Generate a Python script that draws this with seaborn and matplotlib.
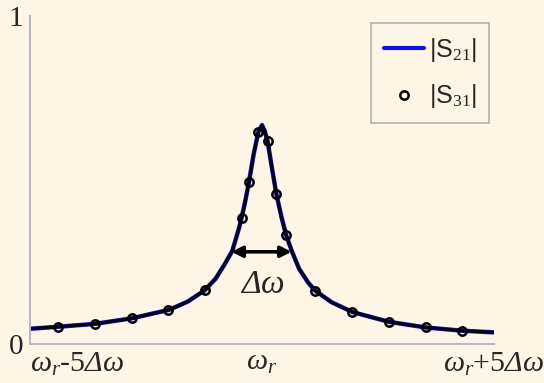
import matplotlib
matplotlib.use("Agg")
import matplotlib.pyplot as plt
from matplotlib.lines import Line2D
import seaborn as sns
import pandas as pd

# curve |S21| (x in units of delta-omega from omega_r)
line_x = [-5.0, -4.4, -3.6, -2.8, -2.0, -1.6, -1.23, -1.0, -0.8, -0.64, -0.5, -0.44,
          -0.36, -0.28, -0.18, -0.08, 0.0, 0.06, 0.12, 0.2, 0.31, 0.42, 0.52, 0.64,
          0.8, 1.0, 1.15, 1.5, 1.95, 2.74, 3.53, 4.32, 5.0]
line_y = [0.045, 0.051, 0.060, 0.077, 0.103, 0.128, 0.163, 0.198, 0.243, 0.283, 0.350, 0.384,
          0.435, 0.494, 0.578, 0.645, 0.667, 0.648, 0.618, 0.548, 0.456, 0.386, 0.331, 0.283,
          0.228, 0.185, 0.161, 0.126, 0.096, 0.066, 0.049, 0.039, 0.034]

# markers |S31|
pts_x = [-4.39, -3.60, -2.81, -2.02, -1.23, -0.44, -0.28, -0.08, 0.12, 0.31, 0.52,
         1.15, 1.95, 2.74, 3.53, 4.32]
pts_y = [0.051, 0.060, 0.077, 0.103, 0.163, 0.384, 0.494, 0.645, 0.618, 0.456, 0.331,
         0.161, 0.096, 0.066, 0.049, 0.039]

xtick_pos = [-5, 0, 5]
xtick_labels = [r"$\omega_r$-5$\mathsf{\Delta}\omega$", r"$\omega_r$",
                r"$\omega_r$+5$\mathsf{\Delta}\omega$"]
ytick_pos = [0, 0.2, 0.4, 0.6, 0.8, 1.0]
ytick_labels = ["0", "", "", "", "", "1"]
legend_labels = [r"|S$_{21}$|", r"|S$_{31}$|"]

BG = "#fdf5e6"
sns.set_theme(style="white")
plt.rcParams["font.family"] = ["Liberation Serif", "DejaVu Serif"]
plt.rcParams["mathtext.fontset"] = "custom"
plt.rcParams["mathtext.rm"] = "Liberation Serif"
plt.rcParams["mathtext.it"] = "Liberation Serif:italic"
plt.rcParams["mathtext.sf"] = "Liberation Serif:italic"
plt.rcParams["mathtext.bf"] = "Liberation Serif:bold"

fig = plt.figure(figsize=(5.44, 3.83), dpi=100, facecolor=BG)
ax = fig.add_axes([30 / 544, 1 - 343.5 / 383, 464 / 544, 327.5 / 383])
ax.set_facecolor(BG)

df_line = pd.DataFrame({"x": line_x, "y": line_y})

sns.lineplot(data=df_line, x="x", y="y", ax=ax, color="#2020e0", lw=3.2, sort=False)
sns.lineplot(data=df_line, x="x", y="y", ax=ax, color="#05051a", lw=2.4, sort=False)
ax.plot(pts_x, pts_y, linestyle="none", marker="o", markersize=6,
        markerfacecolor="none", markeredgecolor="black", markeredgewidth=1.8)

# arrow and label
ax.annotate("", xy=(-0.66, 0.28), xytext=(0.64, 0.28),
            arrowprops=dict(arrowstyle="<|-|>", color="black", lw=2.6,
                            mutation_scale=16, shrinkA=0, shrinkB=0))
ax.text(0.0, 0.180, r"$\mathsf{\Delta}\omega$", ha="center", va="center", fontsize=24)

ax.set_xlim(-5, 5)
ax.set_ylim(0, 1)
ax.set_xticks(xtick_pos)
ax.set_xticklabels(xtick_labels, fontsize=21.5)
ax.set_xticks(range(-5, 6), minor=True)
ax.set_yticks(ytick_pos)
ax.set_yticklabels(ytick_labels, fontsize=21)
ax.set_xlabel("")
ax.set_ylabel("")
labels = ax.get_xticklabels()
labels[0].set_ha("left")
ax.tick_params(axis="both", which="both", direction="in", length=5, width=1,
               color="#a8a8b8")
ax.tick_params(axis="x", which="major", pad=5)
ax.tick_params(axis="y", which="major", pad=5)
for s in ["top", "right"]:
    ax.spines[s].set_visible(False)
for s in ["left", "bottom"]:
    ax.spines[s].set_color("#b8b8c8")
    ax.spines[s].set_linewidth(1.5)

handles = [Line2D([0], [0], color="#1010e0", lw=3),
           Line2D([0], [0], linestyle="none", marker="o", markersize=6,
                  markerfacecolor="none", markeredgecolor="black", markeredgewidth=1.8)]
leg = ax.legend(handles, legend_labels, loc="upper right",
                bbox_to_anchor=(459 / 464, (343.5 - 23) / 327.5), borderaxespad=0,
                frameon=True, fancybox=False, facecolor=BG, edgecolor="#a0a0a0",
                prop={"family": ["Liberation Sans"], "size": 18},
                handlelength=1.6, handletextpad=0.2, labelspacing=0.75,
                borderpad=0.5)
leg.get_frame().set_linewidth(1.2)

fig.savefig("out.png", dpi=100, facecolor=BG)
